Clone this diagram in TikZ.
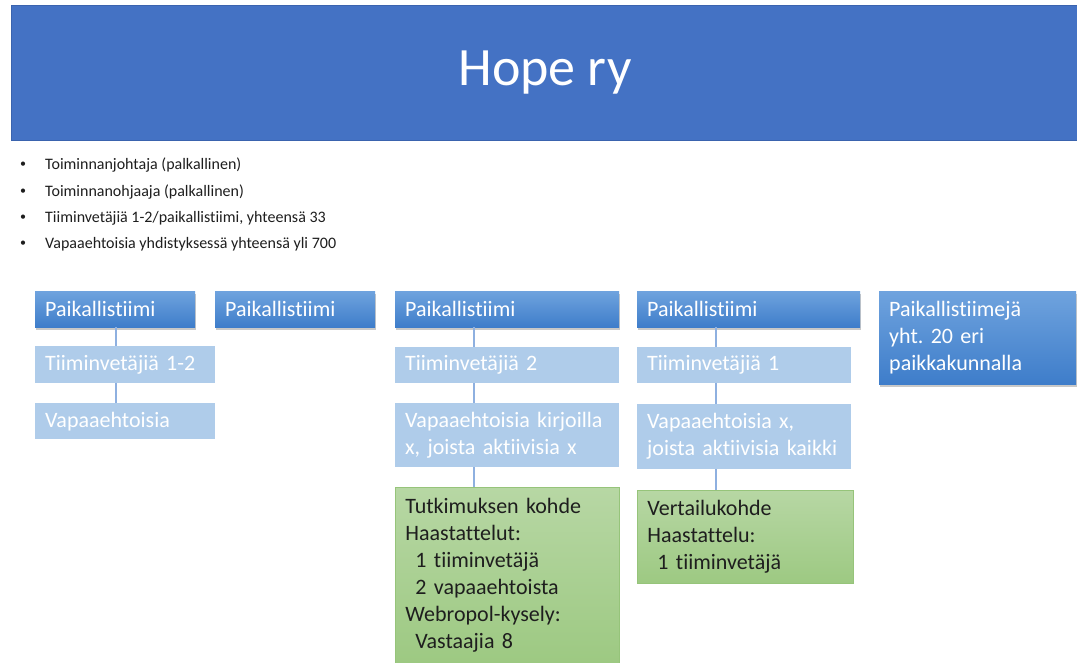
\documentclass[tikz,border=0pt]{standalone}
\usepackage{fontspec}
\setmainfont{Carlito}[Ligatures={NoCommon}]
\usetikzlibrary{shadows}
\definecolor{banner}{HTML}{4472C4}
\definecolor{bannerdark}{HTML}{3A63AE}
\definecolor{hdtop}{HTML}{6FA3DE}
\definecolor{hdbot}{HTML}{3E7DCA}
\definecolor{lightbox}{HTML}{AFCCEA}
\definecolor{grtop}{HTML}{B7D7A4}
\definecolor{grbot}{HTML}{9DC982}
\definecolor{grborder}{HTML}{96C47A}
\definecolor{conn}{HTML}{8EB0E0}
\definecolor{bodytext}{HTML}{1E1E1E}
\frenchspacing
\tikzset{
  boxbase/.style={anchor=north west, inner xsep=10pt, inner ysep=0pt, align=left,
    font=\fontsize{22}{27}\selectfont},
  hdbox/.style={boxbase, top color=hdtop, bottom color=hdbot, text=white,
    drop shadow={shadow xshift=1pt, shadow yshift=-2.5pt, opacity=0.3, fill=black!70}},
  ltbox/.style={boxbase, fill=lightbox, text=white},
  grbox/.style={boxbase, top color=grtop, bottom color=grbot, draw=grborder, line width=0.8pt, text=bodytext},
  connline/.style={draw=conn, line width=1.2pt},
  bulletline/.style={anchor=west, inner sep=0pt, font=\fontsize{16}{18}\selectfont, text=bodytext},
  bulletdot/.style={inner sep=0pt, font=\fontsize{12}{12}\selectfont, text=bodytext}
}
\begin{document}
\begin{tikzpicture}[x=1pt,y=-1pt]
\useasboundingbox (0,0) rectangle (1077,662);
\fill[white] (0,0) rectangle (1077,662);
% banner
\node[anchor=north west, minimum width=1066pt, minimum height=135pt, inner sep=0pt,
  fill=banner, draw=bannerdark, line width=0.8pt] (banner) at (11,5) {};
\node[text=white, font=\fontsize{54}{60}\selectfont] (title) at (545,73) {Hope ry};
% bullets
\node[bulletdot] (b1) at (23,165) {\textbullet};
\node[bulletline] (l1) at (45,165) {Toiminnanjohtaja (palkallinen)};
\node[bulletdot] (b2) at (23,192) {\textbullet};
\node[bulletline] (l2) at (45,192) {Toiminnanohjaaja (palkallinen)};
\node[bulletdot] (b3) at (23,218) {\textbullet};
\node[bulletline] (l3) at (45,218) {Tiiminvetäjiä 1-2/paikallistiimi, yhteensä 33};
\node[bulletdot] (b4) at (23,244) {\textbullet};
\node[bulletline] (l4) at (45,244) {Vapaaehtoisia yhdistyksessä yhteensä yli 700};
% column 1
\node[hdbox, text width=140pt, minimum height=36pt] (h1) at (35,291) {Paikallistiimi};
\node[ltbox, text width=160pt, minimum height=37pt] (t1) at (35,346) {Tiiminvetäjiä 1-2};
\node[ltbox, text width=160pt, minimum height=36pt] (v1) at (35,403) {Vapaaehtoisia};
% column 2
\node[hdbox, text width=140pt, minimum height=36pt] (h2) at (215,291) {Paikallistiimi};
% column 3
\node[hdbox, text width=204pt, minimum height=36pt] (h3) at (395,291) {Paikallistiimi};
\node[ltbox, text width=204pt, minimum height=36pt] (t3) at (395,347) {Tiiminvetäjiä 2};
\node[ltbox, text width=204pt, minimum height=64pt] (v3) at (395,403) {Vapaaehtoisia kirjoilla\\x, joista aktiivisia x};
\node[grbox, text width=204pt, minimum height=176pt] (g3) at (395,487) {Tutkimuksen kohde\\Haastattelut:\\\hspace*{10pt}1 tiiminvetäjä\\\hspace*{10pt}2 vapaaehtoista\\Webropol-kysely:\\\hspace*{10pt}Vastaajia 8};
% column 4
\node[hdbox, text width=203pt, minimum height=36pt] (h4) at (637,291) {Paikallistiimi};
\node[ltbox, text width=194pt, minimum height=36pt] (t4) at (637,347) {Tiiminvetäjiä 1};
\node[ltbox, text width=194pt, minimum height=65pt] (v4) at (637,404) {Vapaaehtoisia x,\\joista aktiivisia kaikki};
\node[grbox, text width=196pt, minimum height=93pt] (g4) at (637,490) {Vertailukohde\\Haastattelu:\\\hspace*{10pt}1 tiiminvetäjä};
% column 5
\node[hdbox, text width=177pt, minimum height=93pt] (h5) at (879,291) {Paikallistiimejä\\yht. 20 eri\\paikkakunnalla};
% connector guide coordinates
\coordinate (c1) at (116,0);
\coordinate (c3) at (474,0);
\coordinate (c4) at (716,0);
% connectors
\draw[connline] (h1.south -| c1) -- (t1.north -| c1);
\draw[connline] (t1.south -| c1) -- (v1.north -| c1);
\draw[connline] (h3.south -| c3) -- (t3.north -| c3);
\draw[connline] (t3.south -| c3) -- (v3.north -| c3);
\draw[connline] (v3.south -| c3) -- (g3.north -| c3);
\draw[connline] (h4.south -| c4) -- (t4.north -| c4);
\draw[connline] (t4.south -| c4) -- (v4.north -| c4);
\draw[connline] (v4.south -| c4) -- (g4.north -| c4);
\end{tikzpicture}
\end{document}
